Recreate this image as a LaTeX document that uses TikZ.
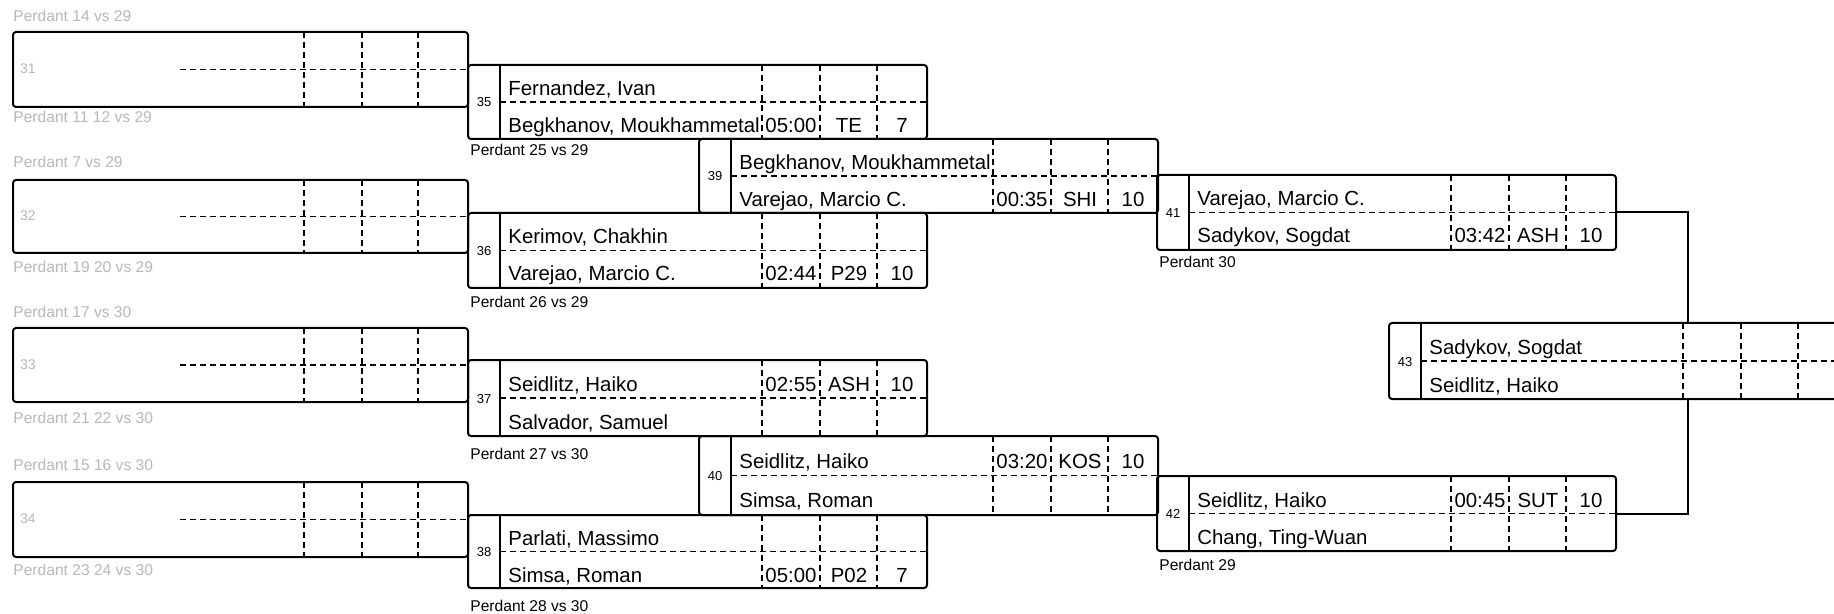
\documentclass[tikz,border=0pt]{standalone}
\usepackage{fontspec}
\setmainfont{Liberation Sans}
\usetikzlibrary{fit}
\tikzset{
  boxst/.style={draw, line width=1pt, rounded corners=1.5pt, inner sep=0pt},
  sepst/.style={line width=0.7pt},
  dsh/.style={line width=0.6pt, dash pattern=on 3pt off 2pt},
  nm/.style={anchor=base west, font=\fontsize{10.2}{12}\selectfont, inner sep=0pt},
  cell/.style={anchor=base, font=\fontsize{10.2}{12}\selectfont, inner sep=0pt},
  num/.style={anchor=base, font=\fontsize{6.5}{8}\selectfont, inner sep=0pt},
  lab/.style={anchor=base west, font=\fontsize{7.8}{9}\selectfont, inner sep=0pt},
  faint/.style={anchor=base west, font=\fontsize{7.8}{9}\selectfont, inner sep=0pt, text=black!28},
  faintnum/.style={anchor=base, font=\fontsize{7}{8}\selectfont, inner sep=0pt, text=black!28},
  conn/.style={line width=1pt},
}
% round box: id, left x, top y, bottom y, number
\newcommand\rbox[5]{%
  \pgfmathsetmacro\xr{#2+459}%
  \pgfmathsetmacro\ym{(#3+#4)/2}%
  \node[boxst, fit={(#2,#3) (\xr,#4)}] (#1) {};
  \draw[sepst] (#2+32,#3) -- (#2+32,#4);
  \draw[dsh] (#2+32,\ym) -- (\xr,\ym);
  \foreach \c in {165,107,50} {\draw[dsh] (\xr-\c,#3) -- (\xr-\c,#4);}
  \node[num] (#1n) at (#2+16,\ym+5) {#5};
}
% row text: id, left x, baseline y, name, time, code, score
\newcommand\rrow[7]{%
  \pgfmathsetmacro\xr{#2+459}%
  \node[nm] (#1a) at (#2+40,#3) {#4};
  \node[cell] (#1b) at (\xr-136,#3) {#5};
  \node[cell] (#1c) at (\xr-78,#3) {#6};
  \node[cell] (#1d) at (\xr-25,#3) {#7};
}
% left (faded) box: id, top y, bottom y, number
\newcommand\lbox[4]{%
  \pgfmathsetmacro\ym{(#2+#3)/2}%
  \node[boxst, fit={(13,#2) (468,#3)}] (#1) {};
  \draw[dsh] (180,\ym) -- (468,\ym);
  \foreach \c in {164,106,50} {\draw[dsh] (468-\c,#2) -- (468-\c,#3);}
  \node[faintnum] (#1n) at (28,\ym+4) {#4};
}
\begin{document}
\begin{tikzpicture}[x=0.5pt, y=-0.5pt]
\useasboundingbox (0,0) rectangle (1834,614);
\clip (0,0) rectangle (1834,614);
\fill[white] (0,0) rectangle (1834,614);

% ---- faded first column ----
\lbox{L1}{32}{107}{31}
\lbox{L2}{180}{253}{32}
\lbox{L3}{328}{402}{33}
\lbox{L4}{482}{557}{34}
\node[faint] (f1a) at (13,22) {Perdant 14 vs 29};
\node[faint] (f1b) at (13,123) {Perdant 11 12 vs 29};
\node[faint] (f2a) at (13,168) {Perdant 7 vs 29};
\node[faint] (f2b) at (13,273) {Perdant 19 20 vs 29};
\node[faint] (f3a) at (13,318) {Perdant 17 vs 30};
\node[faint] (f3b) at (13,423) {Perdant 21 22 vs 30};
\node[faint] (f4a) at (13,470) {Perdant 15 16 vs 30};
\node[faint] (f4b) at (13,575) {Perdant 23 24 vs 30};

% ---- round boxes ----
\rbox{m35}{468}{65}{139}{35}
\rrow{r35a}{468}{95.5}{Fernandez, Ivan}{}{}{}
\rrow{r35b}{468}{132.5}{Begkhanov, Moukhammetal}{05:00}{TE}{7}
\node[lab] (l35) at (470,156) {Perdant 25 vs 29};

\rbox{m36}{468}{213}{288}{36}
\rrow{r36a}{468}{244}{Kerimov, Chakhin}{}{}{}
\rrow{r36b}{468}{281}{Varejao, Marcio C.}{02:44}{P29}{10}
\node[lab] (l36) at (470,307) {Perdant 26 vs 29};

\rbox{m37}{468}{360}{436}{37}
\rrow{r37a}{468}{391}{Seidlitz, Haiko}{02:55}{ASH}{10}
\rrow{r37b}{468}{429}{Salvador, Samuel}{}{}{}
\node[lab] (l37) at (470,459) {Perdant 27 vs 30};

\rbox{m38}{468}{515}{588}{38}
\rrow{r38a}{468}{545}{Parlati, Massimo}{}{}{}
\rrow{r38b}{468}{582}{Simsa, Roman}{05:00}{P02}{7}
\node[lab] (l38) at (470,611) {Perdant 28 vs 30};

\rbox{m39}{699}{139}{213}{39}
\rrow{r39a}{699}{169.5}{Begkhanov, Moukhammetal}{}{}{}
\rrow{r39b}{699}{206.5}{Varejao, Marcio C.}{00:35}{SHI}{10}

\rbox{m40}{699}{436}{515}{40}
\rrow{r40a}{699}{468}{Seidlitz, Haiko}{03:20}{KOS}{10}
\rrow{r40b}{699}{507}{Simsa, Roman}{}{}{}

\rbox{m41}{1157}{175}{250}{41}
\rrow{r41a}{1157}{206}{Varejao, Marcio C.}{}{}{}
\rrow{r41b}{1157}{243}{Sadykov, Sogdat}{03:42}{ASH}{10}
\node[lab] (l41) at (1159,268) {Perdant 30};

\rbox{m42}{1157}{476}{551}{42}
\rrow{r42a}{1157}{507}{Seidlitz, Haiko}{00:45}{SUT}{10}
\rrow{r42b}{1157}{544}{Chang, Ting-Wuan}{}{}{}
\node[lab] (l42) at (1159,570) {Perdant 29};

\rbox{m43}{1389}{323}{399}{43}
\rrow{r43a}{1389}{354}{Sadykov, Sogdat}{}{}{}
\rrow{r43b}{1389}{392}{Seidlitz, Haiko}{}{}{}

% ---- connectors ----
\draw[conn] (m41.east) -| ([xshift=150pt]m43.north west);
\draw[conn] (m42.east) -| ([xshift=150pt]m43.south west);
\end{tikzpicture}
\end{document}
